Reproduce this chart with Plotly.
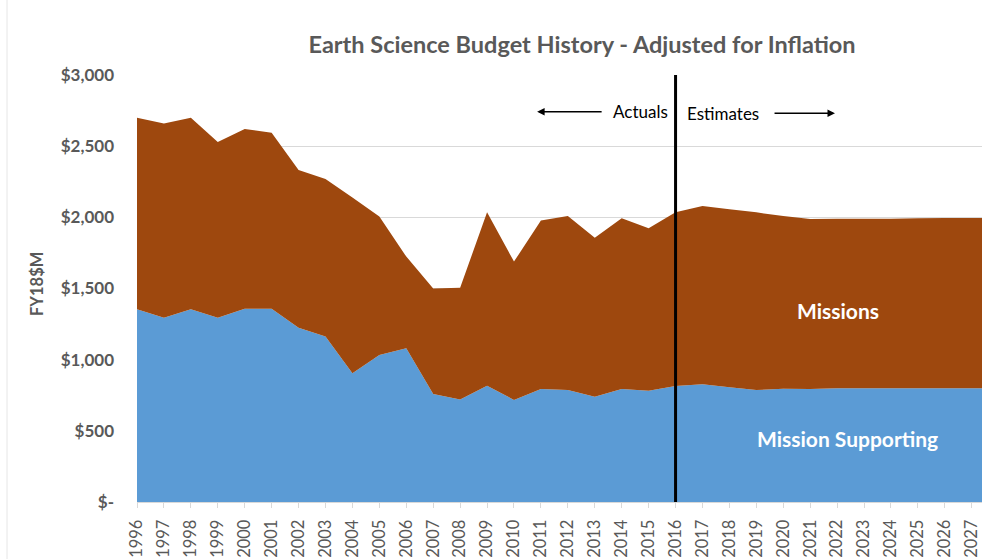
import plotly.graph_objects as go

years = list(range(1996, 2029))
mission_supporting = [1355, 1295, 1355, 1295, 1357, 1357, 1225, 1162, 904, 1033,
                      1080, 759, 721, 817, 717, 794, 787, 740, 794, 782,
                      815, 827, 806, 787, 795, 794, 800, 800, 800, 800,
                      800, 800, 800]
missions = [1345, 1365, 1345, 1235, 1263, 1238, 1108, 1107, 1236, 972,
            644, 741, 784, 1218, 972, 1183, 1222, 1117, 1199, 1141,
            1220, 1253, 1250, 1248, 1214, 1194, 1190, 1190, 1190, 1193,
            1195, 1195, 1195]
y_ticks = [0, 500, 1000, 1500, 2000, 2500, 3000]
y_tick_labels = ["$-", "$500", "$1,000", "$1,500", "$2,000", "$2,500", "$3,000"]
x_ticks = list(range(1996, 2028))

BLUE = "#5B9BD5"
BROWN = "#9E480E"
GRAY = "#595959"
FONT = "Lato"

W, H = 982, 559
ML, MT, MB = 137, 75, 57
PW = W - ML
PH = H - MT - MB

fig = go.Figure()
fig.add_trace(go.Scatter(x=years, y=mission_supporting, name="Mission Supporting",
                         stackgroup="one", mode="none", fillcolor=BLUE))
fig.add_trace(go.Scatter(x=years, y=missions, name="Missions",
                         stackgroup="one", mode="none", fillcolor=BROWN))

fig.add_shape(type="line", x0=2016, x1=2016, y0=0, y1=3000, xref="x", yref="y",
              line=dict(color="black", width=3))
fig.add_shape(type="line", x0=(7 - ML) / PW, x1=(7 - ML) / PW, y0=-MB / PH, y1=(H - MB) / PH,
              xref="paper", yref="paper", line=dict(color="#E6E6E6", width=1))

annos = []
annos.append(dict(x=2010.86, y=2742, ax=2013.31, ay=2742, xref="x", yref="y",
                  axref="x", ayref="y", text="", showarrow=True, arrowhead=2,
                  arrowsize=1, arrowwidth=1.5, arrowcolor="black"))
annos.append(dict(x=2021.92, y=2731, ax=2019.62, ay=2731, xref="x", yref="y",
                  axref="x", ayref="y", text="", showarrow=True, arrowhead=2,
                  arrowsize=1, arrowwidth=1.5, arrowcolor="black"))
annos.append(dict(x=2014.69, y=2742, xref="x", yref="y", text="Actuals", showarrow=False,
                  font=dict(family=FONT, size=17, color="black")))
annos.append(dict(x=2017.77, y=2731, xref="x", yref="y", text="Estimates", showarrow=False,
                  font=dict(family=FONT, size=17, color="black")))
annos.append(dict(x=2022.03, y=1342, xref="x", yref="y", text="Missions", showarrow=False,
                  font=dict(family=FONT, size=21, color="white", weight="bold")))
annos.append(dict(x=2022.37, y=443, xref="x", yref="y", text="Mission Supporting",
                  showarrow=False, font=dict(family=FONT, size=21, color="white", weight="bold")))
annos.append(dict(x=(37 - ML) / PW, y=(502 - 284) / PH, xref="paper", yref="paper",
                  text="FY18$M", textangle=-90, showarrow=False,
                  xanchor="center", yanchor="middle",
                  font=dict(family=FONT, size=16.5, color=GRAY, weight="bold")))

fig.update_layout(
    width=W, height=H,
    margin=dict(l=ML, r=0, t=MT, b=MB, autoexpand=False),
    paper_bgcolor="white", plot_bgcolor="white",
    showlegend=False,
    title=dict(text="Earth Science Budget History - Adjusted for Inflation",
               x=582 / W, xanchor="center", y=1 - 45 / H, yanchor="middle",
               font=dict(family=FONT, size=23.5, color=GRAY, weight="bold")),
    annotations=annos,
    font=dict(family=FONT, color=GRAY),
)
fig.update_xaxes(range=[1996, 2027.38], tickmode="array", tickvals=x_ticks,
                 ticktext=[str(v) for v in x_ticks], tickangle=-90,
                 tickfont=dict(family=FONT, size=16.5, color=GRAY),
                 showgrid=False, showline=True, linecolor="#D9D9D9", linewidth=1,
                 ticks="outside", ticklen=5, tickcolor="#D9D9D9", zeroline=False,
                 automargin=False, ticklabelstandoff=5)
fig.update_yaxes(range=[0, 3000], tickmode="array", tickvals=y_ticks, ticktext=y_tick_labels,
                 tickfont=dict(family=FONT, size=17, color=GRAY, weight="bold"),
                 showgrid=True, gridcolor="#D9D9D9", gridwidth=1, zeroline=False,
                 showline=False, ticks="", ticklabelstandoff=22, automargin=False)

fig.write_html("out.html", config={"displayModeBar": False},
               post_script="document.body.style.margin='0';document.body.style.overflow='hidden';")
